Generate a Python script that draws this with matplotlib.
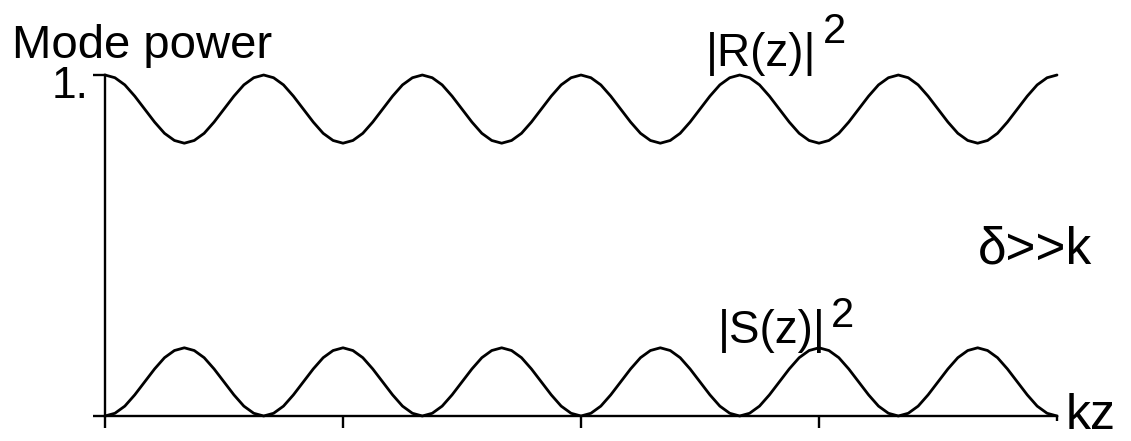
import matplotlib
matplotlib.use('Agg')
import numpy as np
import matplotlib.pyplot as plt

# mode power, 16 samples per beat period (6 periods over kz = 0..4)
r_power = [
    1.000, 0.992, 0.971, 0.938, 0.900, 0.862, 0.829, 0.808, 0.800, 0.808, 0.829, 0.862, 0.900, 0.938, 0.971, 0.992,
    1.000, 0.992, 0.971, 0.938, 0.900, 0.862, 0.829, 0.808, 0.800, 0.808, 0.829, 0.862, 0.900, 0.938, 0.971, 0.992,
    1.000, 0.992, 0.971, 0.938, 0.900, 0.862, 0.829, 0.808, 0.800, 0.808, 0.829, 0.862, 0.900, 0.938, 0.971, 0.992,
    1.000, 0.992, 0.971, 0.938, 0.900, 0.862, 0.829, 0.808, 0.800, 0.808, 0.829, 0.862, 0.900, 0.938, 0.971, 0.992,
    1.000, 0.992, 0.971, 0.938, 0.900, 0.862, 0.829, 0.808, 0.800, 0.808, 0.829, 0.862, 0.900, 0.938, 0.971, 0.992,
    1.000, 0.992, 0.971, 0.938, 0.900, 0.862, 0.829, 0.808, 0.800, 0.808, 0.829, 0.862, 0.900, 0.938, 0.971, 0.992,
    1.000,
]
s_power = [
    0.000, 0.008, 0.029, 0.062, 0.100, 0.138, 0.171, 0.192, 0.200, 0.192, 0.171, 0.138, 0.100, 0.062, 0.029, 0.008,
    0.000, 0.008, 0.029, 0.062, 0.100, 0.138, 0.171, 0.192, 0.200, 0.192, 0.171, 0.138, 0.100, 0.062, 0.029, 0.008,
    0.000, 0.008, 0.029, 0.062, 0.100, 0.138, 0.171, 0.192, 0.200, 0.192, 0.171, 0.138, 0.100, 0.062, 0.029, 0.008,
    0.000, 0.008, 0.029, 0.062, 0.100, 0.138, 0.171, 0.192, 0.200, 0.192, 0.171, 0.138, 0.100, 0.062, 0.029, 0.008,
    0.000, 0.008, 0.029, 0.062, 0.100, 0.138, 0.171, 0.192, 0.200, 0.192, 0.171, 0.138, 0.100, 0.062, 0.029, 0.008,
    0.000, 0.008, 0.029, 0.062, 0.100, 0.138, 0.171, 0.192, 0.200, 0.192, 0.171, 0.138, 0.100, 0.062, 0.029, 0.008,
    0.000,
]
kz_step = 1 / 24
kz = np.arange(len(r_power)) * kz_step
kz_ticks = [0, 1, 2, 3]
power_ticks = [0, 1]

plt.rcParams['font.family'] = ['Liberation Sans', 'DejaVu Sans']

W, H = 1131, 441
fig = plt.figure(figsize=(W / 100, H / 100), dpi=100)
ax = fig.add_axes([105 / W, (H - 416) / H, (1057 - 105) / W, (416 - 75) / H])

ax.plot(kz, r_power, color='black', lw=2.0, clip_on=False, solid_capstyle='round')
ax.plot(kz, s_power, color='black', lw=2.0, clip_on=False, solid_capstyle='round')

ax.set_xlim(0, 4)
ax.set_ylim(0, 1)
for side in ['top', 'right']:
    ax.spines[side].set_visible(False)
for side in ['left', 'bottom']:
    ax.spines[side].set_linewidth(1.7)

ax.set_xticks(kz_ticks)
ax.set_xticklabels([])
ax.set_xticks([4], minor=True)
ax.tick_params(axis='x', which='major', direction='out', length=8.6, width=1.7)
ax.tick_params(axis='x', which='minor', direction='out', length=3.5, width=1.7)
ax.set_yticks(power_ticks)
ax.set_yticklabels([])
ax.tick_params(axis='y', direction='out', length=8.6, width=1.7)


def px_text(x, y, s, **kw):
    fig.text(x / W, 1 - y / H, s, va='baseline', **kw)


px_text(12, 58, 'Mode power', fontsize=34)
px_text(52, 98, '1.', fontsize=32)
px_text(706, 66, '|R(z)|', fontsize=33)
px_text(823, 43, '2', fontsize=30)
px_text(718, 343, '|S(z)|', fontsize=33)
px_text(831, 327, '2', fontsize=30)
px_text(978, 263, 'δ>>k', fontsize=37)
px_text(1066, 429, 'kz', fontsize=36)

fig.savefig('out.png', dpi=100)
